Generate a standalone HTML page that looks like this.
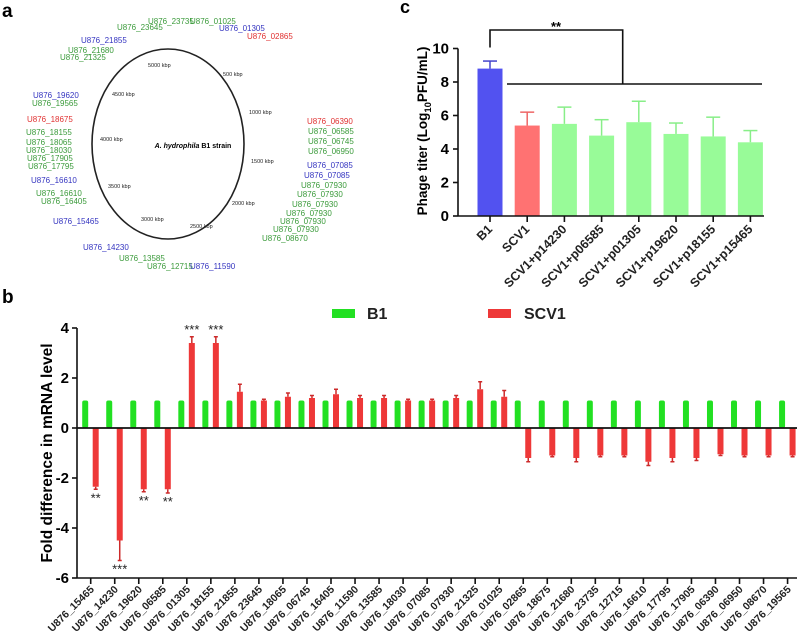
<!DOCTYPE html>
<html><head><meta charset="utf-8"><style>
body{margin:0;background:#fff;}
svg{display:block;font-family:"Liberation Sans",Arial,sans-serif;}
</style></head><body>
<svg id="fig" width="800" height="643" viewBox="0 0 800 643" xmlns="http://www.w3.org/2000/svg">
<g>
<text x="2" y="17" font-size="19" font-weight="bold">a</text>
<ellipse cx="168" cy="144" rx="76" ry="95" fill="none" stroke="#222" stroke-width="1.6"/>
<text x="193" y="148" font-size="7" font-weight="bold" text-anchor="middle"><tspan font-style="italic">A. hydrophila</tspan> B1 strain</text>
<g id="kbp" font-size="5.5" fill="#222"></g>
<g id="glabels" font-size="8"></g>
</g>
<g>
<text x="400" y="13" font-size="18" font-weight="bold">c</text>
<g id="cchart"></g>
</g>
<g>
<text x="2" y="303" font-size="19" font-weight="bold">b</text>
<g id="bchart"></g>
</g>
</svg>
<script>
const NS="http://www.w3.org/2000/svg";
// ---- panel b data ----
const bCategories=["U876_15465","U876_14230","U876_19620","U876_06585","U876_01305","U876_18155","U876_21855","U876_23645","U876_18065","U876_06745","U876_16405","U876_11590","U876_13585","U876_18030","U876_07085","U876_07930","U876_21325","U876_01025","U876_02865","U876_18675","U876_21680","U876_23735","U876_12715","U876_16610","U876_17795","U876_17905","U876_06390","U876_06950","U876_08670","U876_19565"];
const bB1=[1.1,1.1,1.1,1.1,1.1,1.1,1.1,1.1,1.1,1.1,1.1,1.1,1.1,1.1,1.1,1.1,1.1,1.1,1.1,1.1,1.1,1.1,1.1,1.1,1.1,1.1,1.1,1.1,1.1,1.1];
const bSCV1=[-2.35,-4.5,-2.45,-2.45,3.4,3.4,1.45,1.1,1.25,1.2,1.35,1.2,1.2,1.1,1.1,1.2,1.55,1.25,-1.2,-1.1,-1.2,-1.1,-1.1,-1.35,-1.2,-1.2,-1.05,-1.1,-1.1,-1.1];
const bSCV1Err=[0.1,0.8,0.1,0.15,0.25,0.25,0.3,0.05,0.15,0.1,0.2,0.1,0.1,0.05,0.05,0.1,0.3,0.25,0.15,0.05,0.15,0.05,0.05,0.15,0.15,0.1,0.05,0.05,0.05,0.05];
const bSig=["**","***","**","**","***","***","","","","","","","","","","","","","","","","","","","","","","","",""];
const bTicks=[4,2,0,-2,-4,-6];
// ---- panel c data ----
const cCategories=["B1","SCV1","SCV1+p14230","SCV1+p06585","SCV1+p01305","SCV1+p19620","SCV1+p18155","SCV1+p15465"];
const cValues=[8.8,5.4,5.5,4.8,5.6,4.9,4.75,4.4];
const cErrors=[0.45,0.8,1.0,0.95,1.25,0.65,1.15,0.7];
const cTicks=[0,2,4,6,8,10];
// ---- panel a labels ----
const aLabels=[["U876_23735",148,24,"g"],["U876_01025",190,24,"g"],["U876_23645",117,30,"g"],["U876_01305",219,31,"b"],["U876_02865",247,39,"r"],["U876_21855",81,43,"b"],["U876_21680",68,53,"g"],["U876_21325",60,60,"g"],["U876_19620",33,98,"b"],["U876_19565",32,106,"g"],["U876_18675",27,122,"r"],["U876_18155",26,135,"g"],["U876_18065",26,145,"g"],["U876_18030",26,153,"g"],["U876_17905",27,161,"g"],["U876_17795",28,169,"g"],["U876_16610",31,183,"b"],["U876_16610",36,196,"g"],["U876_16405",41,204,"g"],["U876_15465",53,224,"b"],["U876_14230",83,250,"b"],["U876_13585",119,261,"g"],["U876_12715",147,269,"g"],["U876_11590",190,269,"b"],["U876_06390",307,124,"r"],["U876_06585",308,134,"g"],["U876_06745",308,144,"g"],["U876_06950",308,154,"g"],["U876_07085",307,168,"b"],["U876_07085",304,178,"b"],["U876_07930",301,188,"g"],["U876_07930",297,197,"g"],["U876_07930",292,207,"g"],["U876_07930",286,216,"g"],["U876_07930",280,224,"g"],["U876_07930",273,232,"g"],["U876_08670",262,241,"g"]];
const kbpLabels=[["5000 kbp",148,67],["500 kbp",223,76],["4500 kbp",112,96],["1000 kbp",249,114],["4000 kbp",100,141],["1500 kbp",251,163],["3500 kbp",108,188],["2000 kbp",232,205],["3000 kbp",141,221],["2500 kbp",190,228]];

function mk(tag,attrs,parent,text){const e=document.createElementNS(NS,tag);for(const k in attrs)e.setAttribute(k,attrs[k]);if(text!==undefined)e.textContent=text;parent.appendChild(e);return e;}

// panel a
const col={g:"#3a9a3a",b:"#3434c0",r:"#e03030"};
const gl=document.getElementById("glabels");
aLabels.forEach(l=>{const t=mk("text",{x:l[1],y:l[2],fill:col[l[3]]},gl,l[0]);

});
const kg=document.getElementById("kbp");
kbpLabels.forEach(l=>{const t=mk("text",{x:l[1],y:l[2]},kg,l[0]);

});

// panel b
const bg=document.getElementById("bchart");
const bx0=90.7,bstep=24.03,by=v=>428-v*25;
const bxi=i=>bx0+i*bstep;
bTicks.forEach(v=>{mk("line",{x1:72,x2:77,y1:by(v),y2:by(v),stroke:"#111","stroke-width":1.6},bg);
const t=mk("text",{x:69,y:by(v)+5,"text-anchor":"end","font-size":15,"font-weight":"bold"},bg,String(v));

});
mk("line",{x1:77,x2:77,y1:by(4),y2:by(-6),stroke:"#111","stroke-width":1.6},bg);
mk("line",{x1:77,x2:797,y1:by(-6),y2:by(-6),stroke:"#111","stroke-width":1.6},bg);
const yt=mk("text",{transform:"translate(52,453) rotate(-90)","text-anchor":"middle","font-size":15.5,"font-weight":"bold"},bg,"Fold difference in mRNA level");


bCategories.forEach((c,i)=>{const x=bxi(i);
mk("line",{x1:x,x2:x,y1:by(-6),y2:by(-6)+6,stroke:"#111","stroke-width":1.6},bg);
const t=mk("text",{transform:`translate(${x+4},${by(-6)+12}) rotate(-45)`,"text-anchor":"end","font-size":10.5,"font-weight":"bold",fill:"#222"},bg,c);


const v=bB1[i];
const g=mk("rect",{x:x-8.5,y:by(v),width:6,height:by(0)-by(v),fill:"#22e022",rx:2},bg);


const s=bSCV1[i],e=bSCV1Err[i];
const r=mk("rect",{x:x+2,y:Math.min(by(s),by(0)),width:6,height:Math.abs(by(s)-by(0)),fill:"#ee3838"},bg);


const tip=s+(s>0?e:-e);
mk("line",{x1:x+5,x2:x+5,y1:by(s),y2:by(tip),stroke:"#cc2a2a","stroke-width":1.5},bg);
mk("line",{x1:x+3,x2:x+7,y1:by(tip),y2:by(tip),stroke:"#cc2a2a","stroke-width":1.5},bg);
if(bSig[i]){const sy=s>0?by(tip)-3:by(tip)+13;
const st=mk("text",{x:x+5,y:sy,"text-anchor":"middle","font-size":13,fill:"#222"},bg,bSig[i]);

}
});
mk("line",{x1:77,x2:797,y1:by(0),y2:by(0),stroke:"#111","stroke-width":1.8},bg);
const lg1=mk("rect",{x:332,y:309,width:23,height:9,fill:"#22e022"},bg);


const lt1=mk("text",{x:367,y:319,"font-size":16,"font-weight":"bold",fill:"#222"},bg,"B1");


const lg2=mk("rect",{x:488,y:309,width:23,height:9,fill:"#ee3838"},bg);


const lt2=mk("text",{x:524,y:319,"font-size":16,"font-weight":"bold",fill:"#222"},bg,"SCV1");



// panel c
const cg=document.getElementById("cchart");
const cy=v=>216-v*16.75, cx=i=>490+i*37.2;
const cCols=["#5252f0","#ff7272","#98fb98","#98fb98","#98fb98","#98fb98","#98fb98","#98fb98"];
const cErrCols=["#4444cc","#ee6666","#88ee88","#88ee88","#88ee88","#88ee88","#88ee88","#88ee88"];
cTicks.forEach(v=>{mk("line",{x1:453,x2:458,y1:cy(v),y2:cy(v),stroke:"#111","stroke-width":1.6},cg);
const t=mk("text",{x:449,y:cy(v)+5,"text-anchor":"end","font-size":15,"font-weight":"bold"},cg,String(v));

});
cCategories.forEach((c,i)=>{const x=cx(i),v=cValues[i],e=cErrors[i];
mk("line",{x1:x,x2:x,y1:cy(v),y2:cy(v+e),stroke:cErrCols[i],"stroke-width":1.5},cg);
mk("line",{x1:x-7,x2:x+7,y1:cy(v+e),y2:cy(v+e),stroke:cErrCols[i],"stroke-width":1.5},cg);
const r=mk("rect",{x:x-12.5,y:cy(v),width:25,height:cy(0)-cy(v),fill:cCols[i]},cg);


mk("line",{x1:x,x2:x,y1:cy(0),y2:cy(0)+6,stroke:"#111","stroke-width":1.6},cg);
const t=mk("text",{transform:`translate(${x+3},${cy(0)+14}) rotate(-45)`,"text-anchor":"end","font-size":12.5,"font-weight":"bold",fill:"#222"},cg,c);

});
mk("line",{x1:458,x2:458,y1:cy(10),y2:cy(0),stroke:"#111","stroke-width":1.6},cg);
mk("line",{x1:458,x2:764,y1:cy(0),y2:cy(0),stroke:"#111","stroke-width":1.6},cg);
const ct=mk("text",{transform:"translate(427,131) rotate(-90)","text-anchor":"middle","font-size":13.5,"font-weight":"bold"},cg);


mk("tspan",{},ct,"Phage titer (Log");mk("tspan",{"font-size":9.5,dy:4},ct,"10");mk("tspan",{dy:-4},ct,"PFU/mL)");
mk("polyline",{points:`${cx(0)},${cy(10)-1} ${cx(0)},30 622.7,30 622.7,84`,fill:"none",stroke:"#111","stroke-width":1.6},cg);
mk("line",{x1:507,x2:762,y1:84,y2:84,stroke:"#111","stroke-width":1.6},cg);
const sg=mk("text",{x:556,y:31,"text-anchor":"middle","font-size":13,"font-weight":"bold"},cg,"**");


</script>
</body></html>
